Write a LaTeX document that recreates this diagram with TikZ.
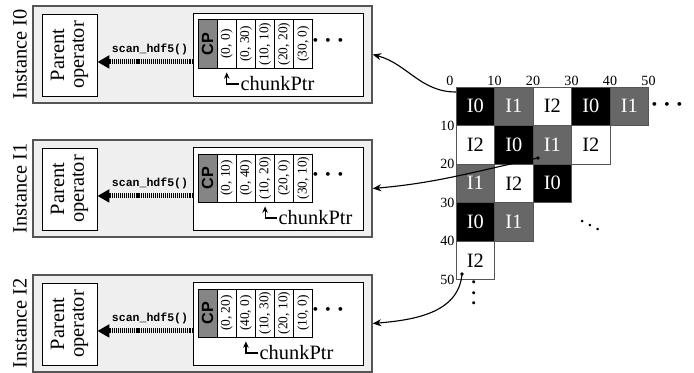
\documentclass[tikz,border=0pt]{standalone}
\usepackage{fontspec}
\setmainfont{Liberation Serif}
\setsansfont{Liberation Sans}
\setmonofont{Liberation Mono}
\usetikzlibrary{arrows,arrows.meta}
\definecolor{boxgray}{HTML}{EFEFEF}
\definecolor{linegray}{HTML}{555555}
\definecolor{cellgray}{HTML}{676767}
\definecolor{cpgray}{HTML}{858585}

\begin{document}
\begin{tikzpicture}[x=0.025cm,y=-0.025cm]
    \tikzstyle{instbox}=[draw=linegray,line width=1pt,fill=boxgray,minimum width=8.475cm,minimum height=2.425cm]
    \tikzstyle{innerbox}=[draw,fill=white,line width=0.6pt,minimum width=4.25cm,minimum height=2.075cm]
    \tikzstyle{instlabel}=[rotate=90,font=\fontsize{14.5}{15}\selectfont]
    \tikzstyle{parentbox}=[draw,fill=white,rotate=90,align=center,line width=0.6pt,minimum width=2.05cm,minimum height=1.375cm,font=\fontsize{14.5}{14}\selectfont]
    \tikzstyle{cpcell}=[draw,fill=cpgray,rotate=90,line width=0.7pt,minimum width=1.2cm,minimum height=0.479cm,inner sep=0pt,font=\fontsize{11.5}{12}\sffamily\bfseries]
    \tikzstyle{chunkcell}=[draw,fill=white,rotate=90,line width=0.7pt,minimum width=1.2cm,minimum height=0.479cm,inner sep=0pt,font=\fontsize{9.5}{10}\selectfont]
    \tikzstyle{scanlabel}=[font=\fontsize{8.2}{9}\ttfamily\bfseries]
    \tikzstyle{ptrlabel}=[anchor=west,inner sep=1pt,font=\fontsize{14.5}{15}\selectfont]
    \tikzstyle{ellip}=[inner sep=1pt,font=\fontsize{16.5}{17}\selectfont\boldmath]
    \tikzstyle{axis}=[inner sep=1pt,font=\fontsize{10}{11}\selectfont]
    \tikzstyle{gcell}=[draw=linegray,line width=0.7pt,minimum size=0.9625cm,inner sep=0pt,font=\fontsize{14.5}{15}\selectfont]
    \tikzstyle{cellI0}=[gcell,fill=black,text=white]
    \tikzstyle{cellI1}=[gcell,fill=cellgray,text=white]
    \tikzstyle{cellI2}=[gcell,fill=white,text=black]
    \tikzstyle{scanedge}=[draw,line width=3.5pt,dash pattern=on 0.75pt off 0.7pt,-{Triangle[length=8.5pt,width=9pt]}]
    \tikzstyle{ptredge}=[draw,line width=0.85pt,shorten >=2.8pt,-{Stealth[length=4.5pt,width=4pt]}]
    \tikzstyle{linkedge}=[draw,line width=0.8pt,-{Stealth[length=6pt,width=5pt]}]

    \useasboundingbox (0,0) rectangle (694,373);

    \node[instbox] (inst0) at (202.5,54.5) {};
    \node[instlabel] (lab0) at (20,54.5) {Instance I0};
    \node[parentbox] (parent0) at (69.5,55) {Parent\\operator};
    \node[innerbox] (inner0) at (278,54.5) {};
    \node[cpcell] (cp0) at (207.6,44) {CP};
    \node[chunkcell] (c01) at (226.75,44) {(0, 0)};
    \node[chunkcell] (c02) at (245.9,44) {(0, 30)};
    \node[chunkcell] (c03) at (265.1,44) {(10, 10)};
    \node[chunkcell] (c04) at (284.25,44) {(20, 20)};
    \node[chunkcell] (c05) at (303.4,44) {(30, 0)};
    \node[ellip] (more0) at (328,41) {$\cdots$};
    \node[scanlabel] (scan0) at (150,49) {scan\_hdf5()};
    \node[ptrlabel] (ptr0) at (239,84) {chunkPtr};
    \path[scanedge] ([yshift=-5.3pt]inner0.west) -- ([yshift=-5.3pt]inner0.west -| parent0.south);
    \path[ptredge] (ptr0.west) -| (c01);

    \node[instbox] (inst1) at (202.5,188.5) {};
    \node[instlabel] (lab1) at (20,188.5) {Instance I1};
    \node[parentbox] (parent1) at (69.5,189) {Parent\\operator};
    \node[innerbox] (inner1) at (278,188.5) {};
    \node[cpcell] (cp1) at (207.6,178) {CP};
    \node[chunkcell] (c11) at (226.75,178) {(0, 10)};
    \node[chunkcell] (c12) at (245.9,178) {(0, 40)};
    \node[chunkcell] (c13) at (265.1,178) {(10, 20)};
    \node[chunkcell] (c14) at (284.25,178) {(20, 0)};
    \node[chunkcell] (c15) at (303.4,178) {(30, 10)};
    \node[ellip] (more1) at (328,175) {$\cdots$};
    \node[scanlabel] (scan1) at (150,183) {scan\_hdf5()};
    \node[ptrlabel] (ptr1) at (277,218) {chunkPtr};
    \path[scanedge] ([yshift=-5.3pt]inner1.west) -- ([yshift=-5.3pt]inner1.west -| parent1.south);
    \path[ptredge] (ptr1.west) -| (c13);

    \node[instbox] (inst2) at (202.5,323.5) {};
    \node[instlabel] (lab2) at (20,323.5) {Instance I2};
    \node[parentbox] (parent2) at (69.5,324) {Parent\\operator};
    \node[innerbox] (inner2) at (278,323.5) {};
    \node[cpcell] (cp2) at (207.6,313) {CP};
    \node[chunkcell] (c21) at (226.75,313) {(0, 20)};
    \node[chunkcell] (c22) at (245.9,313) {(40, 0)};
    \node[chunkcell] (c23) at (265.1,313) {(10, 30)};
    \node[chunkcell] (c24) at (284.25,313) {(20, 10)};
    \node[chunkcell] (c25) at (303.4,313) {(10, 0)};
    \node[ellip] (more2) at (328,310) {$\cdots$};
    \node[scanlabel] (scan2) at (150,318) {scan\_hdf5()};
    \node[ptrlabel] (ptr2) at (258,353) {chunkPtr};
    \path[scanedge] ([yshift=-5.3pt]inner2.west) -- ([yshift=-5.3pt]inner2.west -| parent2.south);
    \path[ptredge] (ptr2.west) -| (c22);

    \node[cellI0] (g00) at (475.25,106.25) {I0};
    \node[cellI1] (g01) at (513.75,106.25) {I1};
    \node[cellI2] (g02) at (552.25,106.25) {I2};
    \node[cellI0] (g03) at (590.75,106.25) {I0};
    \node[cellI1] (g04) at (629.25,106.25) {I1};
    \node[cellI2] (g10) at (475.25,144.75) {I2};
    \node[cellI0] (g11) at (513.75,144.75) {I0};
    \node[cellI1] (g12) at (552.25,144.75) {I1};
    \node[cellI2] (g13) at (590.75,144.75) {I2};
    \node[cellI1] (g20) at (475.25,183.25) {I1};
    \node[cellI2] (g21) at (513.75,183.25) {I2};
    \node[cellI0] (g22) at (552.25,183.25) {I0};
    \node[cellI0] (g30) at (475.25,221.75) {I0};
    \node[cellI1] (g31) at (513.75,221.75) {I1};
    \node[cellI2] (g40) at (475.25,260.25) {I2};

    \node[axis] (t0) at (450,81) {0};
    \node[axis] (t10) at (494.5,81) {10};
    \node[axis] (t20) at (533,81) {20};
    \node[axis] (t30) at (571.5,81) {30};
    \node[axis] (t40) at (610,81) {40};
    \node[axis] (t50) at (648.5,81) {50};
    \node[axis,anchor=east] (l10) at (456,125.5) {10};
    \node[axis,anchor=east] (l20) at (456,164) {20};
    \node[axis,anchor=east] (l30) at (456,202.5) {30};
    \node[axis,anchor=east] (l40) at (456,241) {40};
    \node[axis,anchor=east] (l50) at (456,279.5) {50};

    \node[ellip] (rowmore) at (667,105) {$\cdots$};
    \node[ellip,rotate=90,font=\fontsize{15}{16}\selectfont\boldmath] (colmore) at (474,293) {$\cdots$};
    \node[ellip,font=\fontsize{15}{16}\selectfont\boldmath] (diagmore) at (590,221) {$\ddots$};

    \coordinate (p0) at (456,92);
    \coordinate (p1) at (538,158);
    \coordinate (p2) at (462,274);
    \fill (p1) circle[radius=1.3pt];
    \fill (p2) circle[radius=1.3pt];

    \path[linkedge] (p0) to[out=180,in=-15] (inst0.east);
    \path[linkedge] (p1) to[out=192,in=5] (inst1.east);
    \path[linkedge] (p2) to[out=-95,in=5] (inst2.east);

\end{tikzpicture}
\end{document}
